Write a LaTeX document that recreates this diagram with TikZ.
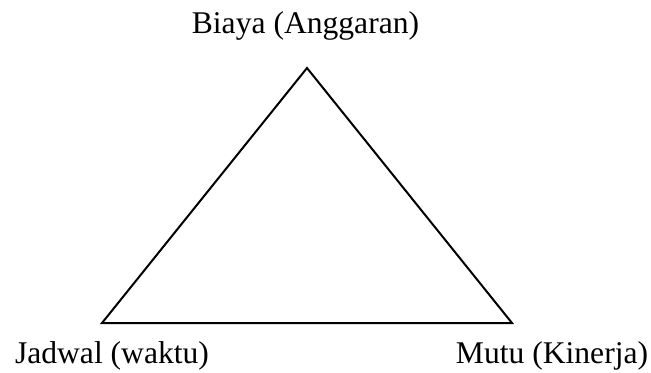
\documentclass[tikz,border=0pt]{standalone}
\usepackage{fontspec}
\setmainfont{Liberation Serif}
\begin{document}
\begin{tikzpicture}[x=0.5pt,y=-0.5pt,
  lbl/.style={anchor=base,inner sep=0pt,font=\fontsize{15.8pt}{19pt}\selectfont},
  edge/.style={line width=1pt,line join=miter}]
\useasboundingbox (0,0) rectangle (651,372);
\node[lbl] (biaya) at (305.5,33) {Biaya (Anggaran)};
\node[lbl] (jadwal) at (112,363) {Jadwal (waktu)};
\node[lbl] (mutu) at (552,363) {Mutu (Kinerja)};
\coordinate (top) at (307,68);
\coordinate (bl) at (102,323);
\coordinate (br) at (512,323);
\draw[edge] (top) -- (bl) -- (br) -- cycle;
\end{tikzpicture}
\end{document}
